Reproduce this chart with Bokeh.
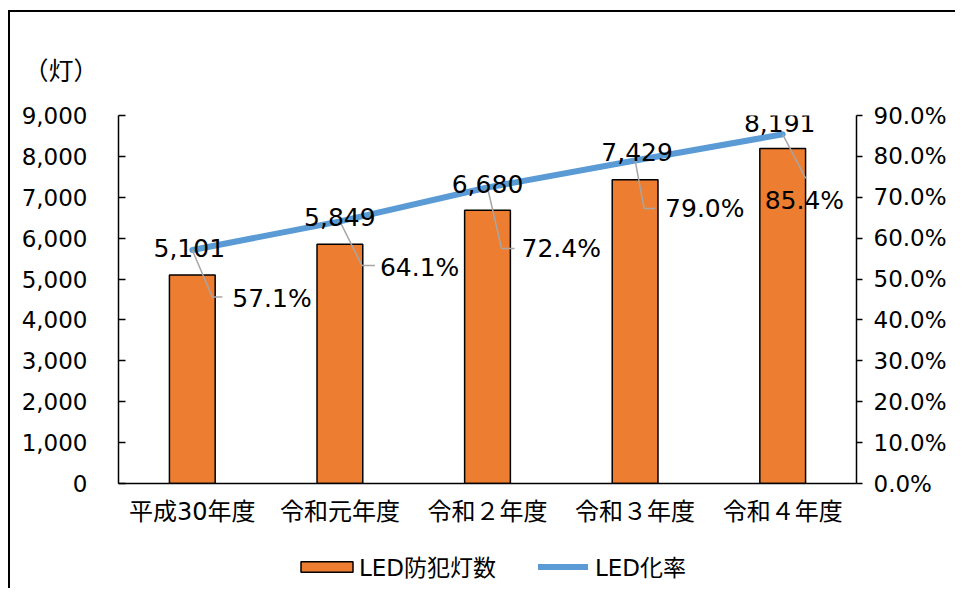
from bokeh.plotting import figure
from bokeh.layouts import column
from bokeh.models import (Range1d, LinearAxis, FixedTicker, SingleIntervalTicker,
                          NumeralTickFormatter, PrintfTickFormatter, Legend, LegendItem,
                          ColumnDataSource, InlineStyleSheet)
from bokeh.core.properties import value
from bokeh.embed import file_html
from bokeh.resources import INLINE

# ---- data ----
categories = ["平成30年度", "令和元年度", "令和２年度", "令和３年度", "令和４年度"]
led_counts = [5101, 5849, 6680, 7429, 8191]
led_rates = [57.1, 64.1, 72.4, 79.0, 85.4]
count_max = 9000
count_step = 1000
rate_max = 90
rate_step = 10
unit_label = "（灯）"
series_names = ["LED防犯灯数", "LED化率"]

# ---- styles / label offsets (px) ----
BAR_COLOR = "#ED7D31"
LINE_COLOR = "#5B9BD5"
LEAD_COLOR = "#A6A6A6"
NUM_FONT = "DejaVu Sans"
JP_FONT = "DejaVu Sans, Noto Sans CJK JP"
FRAME_W, FRAME_H = 738, 368
count_dx = [-3, 0, 0, 2, -3]
count_dy = [2, 4, 3, 8, 11]
pct_dx = [40, 40, 34, 30, -18]
pct_dy = [48, 46, 61, 48, 66]
lead_dx = [20, 22, 14, 9, 23]
lead_dy = [47, 44, 61, 48, 44]
lead_len = [10, 13, 13, 11, 0]

n = len(categories)
idx = list(range(n))
XU = n / FRAME_W
YP = rate_max / FRAME_H

p = figure(width=945, height=531, output_backend="svg", toolbar_location=None,
           x_range=Range1d(-0.5, n - 0.5), y_range=Range1d(0, count_max),
           min_border_left=108, min_border_right=99, min_border_top=103, min_border_bottom=60)
p.extra_y_ranges = {"pct": Range1d(0, rate_max)}
p.outline_line_color = None
p.xgrid.visible = False
p.ygrid.visible = False
p.background_fill_color = "white"
p.border_fill_color = "white"

# unit label as title
p.title.text = unit_label
p.title.align = "left"
p.title.offset = -95
p.title.standoff = 58
p.title.text_font = "Noto Sans CJK JP"
p.title.text_font_size = "25px"
p.title.text_font_style = "normal"
p.title.text_color = "black"

# axes
xa = p.xaxis[0]
xa.ticker = FixedTicker(ticks=idx)
xa.major_label_overrides = {i: c for i, c in zip(idx, categories)}
xa.major_tick_line_color = None
xa.minor_tick_line_color = None
xa.axis_line_color = "black"
xa.axis_line_width = 1.5
xa.major_label_text_font = JP_FONT
xa.major_label_text_font_size = "24px"
xa.major_label_text_color = "black"
xa.major_label_standoff = 8

ya = p.yaxis[0]
ya.ticker = SingleIntervalTicker(interval=count_step)
ya.formatter = NumeralTickFormatter(format="0,0")
ya.major_tick_in = 7
ya.major_tick_out = 0
ya.minor_tick_line_color = None
ya.axis_line_color = "black"
ya.axis_line_width = 1.5
ya.major_tick_line_color = "black"
ya.major_tick_line_width = 1.5
ya.major_label_text_font = NUM_FONT
ya.major_label_text_font_size = "23px"
ya.major_label_text_color = "black"
ya.major_label_standoff = 27

ra = LinearAxis(y_range_name="pct", ticker=SingleIntervalTicker(interval=rate_step),
                formatter=PrintfTickFormatter(format="%.1f%%"))
ra.major_tick_in = 0
ra.major_tick_out = 6
ra.minor_tick_line_color = None
ra.axis_line_color = "black"
ra.axis_line_width = 1.5
ra.major_tick_line_color = "black"
ra.major_tick_line_width = 1.5
ra.major_label_text_font = NUM_FONT
ra.major_label_text_font_size = "23px"
ra.major_label_text_color = "black"
ra.major_label_standoff = 11
p.add_layout(ra, "right")

# bars
bar_style = dict(fill_color=BAR_COLOR, line_color="black", line_width=1.5)
p.vbar(x=idx, top=led_counts, width=0.31, **bar_style)

# line
line_style = dict(line_color=LINE_COLOR, line_width=6, line_cap="round", line_join="round")
p.line(x=idx, y=led_rates, y_range_name="pct", **line_style)

# leader lines
lxs, lys = [], []
for i, r in zip(idx, led_rates):
    ex = i + lead_dx[i] * XU
    ey = r - lead_dy[i] * YP
    lxs.append([i, ex, ex + lead_len[i] * XU])
    lys.append([r, ey, ey])
p.multi_line(xs=lxs, ys=lys, y_range_name="pct", line_color=LEAD_COLOR, line_width=1.5)

# count labels (near line points)
src_c = ColumnDataSource(dict(
    x=[i + count_dx[i] * XU for i in idx],
    y=[r + count_dy[i] * YP for i, r in zip(idx, led_rates)],
    t=[f"{c:,}" for c in led_counts]))
p.text(x="x", y="y", text="t", source=src_c, y_range_name="pct",
       text_font=value(NUM_FONT), text_font_size="25px", text_color="black",
       text_align="center", text_baseline="middle")

# percent labels
src_p = ColumnDataSource(dict(
    x=[i + pct_dx[i] * XU for i in idx],
    y=[r - pct_dy[i] * YP for i, r in zip(idx, led_rates)],
    t=[f"{r:.1f}%" for r in led_rates]))
p.text(x="x", y="y", text="t", source=src_p, y_range_name="pct",
       text_font=value(NUM_FONT), text_font_size="25px", text_color="black",
       text_align="left", text_baseline="middle")

# ---- legend strip (separate small figure below the chart) ----
lf = figure(width=945, height=45, output_backend="svg", toolbar_location=None,
            x_range=Range1d(0, 1), y_range=Range1d(0, 1),
            x_axis_location=None, y_axis_location=None, min_border=0)
lf.title.visible = False
lf.outline_line_color = None
lf.xgrid.visible = False
lf.ygrid.visible = False
lf.border_fill_color = "white"
# proxy renderers for the legend keys (NaN data: nothing drawn in the strip)
nan = float("nan")
r_bar = lf.vbar(x=[nan], top=[nan], width=0.1, **bar_style)
r_line = lf.line(x=[nan, nan], y=[nan, nan], **line_style)

leg_common = dict(glyph_height=13, label_height=20, padding=0, margin=0,
                  border_line_color=None, background_fill_alpha=0,
                  label_text_font=JP_FONT, label_text_font_size="23px",
                  label_text_color="black")
leg1 = Legend(items=[LegendItem(label=series_names[0], renderers=[r_bar])],
              location=(176, 5), glyph_width=65, label_standoff=0, **leg_common)
leg2 = Legend(items=[LegendItem(label=series_names[1], renderers=[r_line])],
              location=(420, 5), glyph_width=50, label_standoff=7, **leg_common)
lf.add_layout(leg1, "center")
lf.add_layout(leg2, "center")

layout = column(p, lf, spacing=0)
layout.stylesheets = [InlineStyleSheet(css=":host { border-left: 2px solid #000; border-top: 2px solid #000; margin-left: 8px; margin-top: 10px; }")]

open("out.html", "w").write(file_html(layout, INLINE))
